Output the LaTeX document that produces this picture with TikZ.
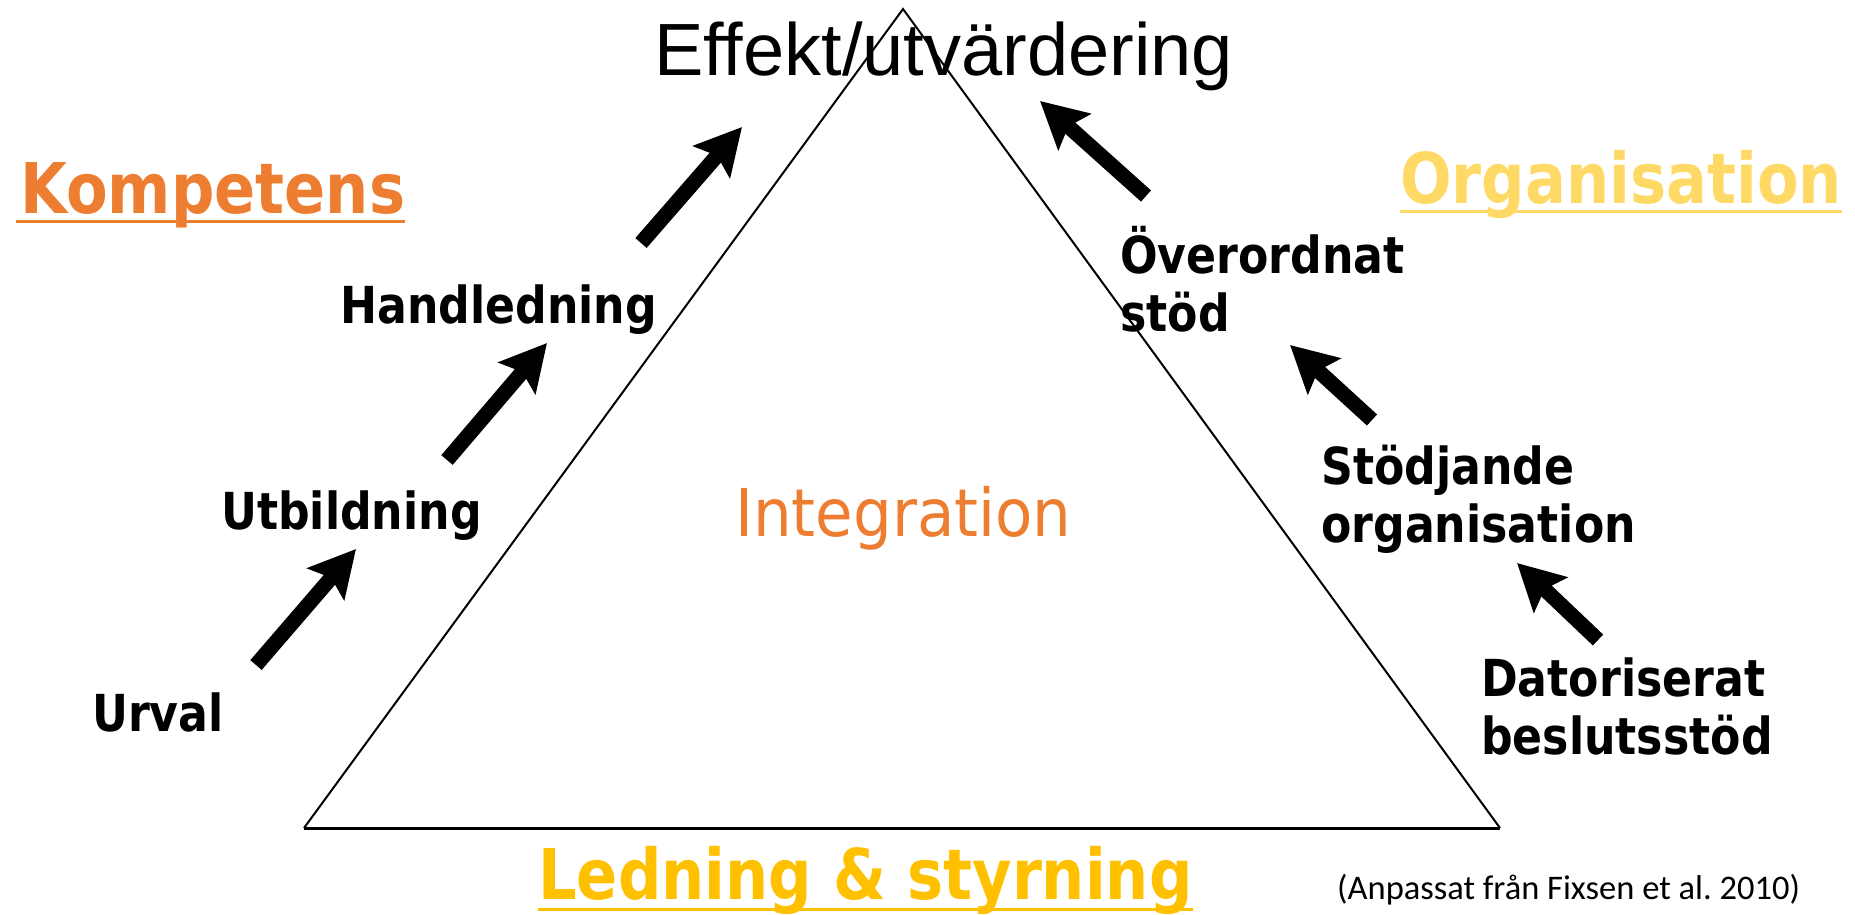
\documentclass[tikz,border=0pt]{standalone}
\usepackage{fontspec}
\usetikzlibrary{arrows.meta}
\setmainfont{Liberation Sans}
\newfontfamily\tahfont[FakeStretch=0.867]{DejaVu Sans}
\newfontfamily\tahregfont[FakeStretch=0.925]{DejaVu Sans}
\newfontfamily\calfont{Carlito}
\definecolor{korange}{HTML}{ED7D31}
\definecolor{orggold}{HTML}{FFD966}
\definecolor{ledgold}{HTML}{FFC000}
\begin{document}
\begin{tikzpicture}[x=1pt,y=-1pt,
  lab/.style={anchor=base west,inner sep=0pt,align=left,font=\tahfont\bfseries\fontsize{51}{58}\selectfont},
  corner/.style={anchor=base west,inner sep=0pt,font=\tahfont\bfseries\fontsize{70}{80}\selectfont},
  uline/.style={line width=3pt},
  bigarrow/.style={line width=15pt,-{Stealth[length=46pt,width=48pt,inset=8pt]}},
  tri/.style={line width=2pt,line join=miter}]
\useasboundingbox (0,0) rectangle (1855,914);
% triangle
\coordinate (apex) at (903,9);
\coordinate (bl) at (304,828);
\coordinate (br) at (1500,828);
\draw[tri] (bl) -- (apex) -- (br);
\draw[line width=3pt] (bl) -- (br);
% title
\node[anchor=base west,inner sep=0pt,font=\fontsize{74}{80}\selectfont] (title) at (654,75) {Effekt/utvärdering};
% corner headings
\node[corner,text=korange] (komp) at (20,213) {Kompetens};
\draw[uline,korange] ([xshift=-4pt,yshift=-8pt]komp.base west) -- ([yshift=-8pt]komp.base east);
\node[corner,text=orggold] (org) at (1400,203) {Organisation};
\draw[uline,orggold] ([yshift=-8pt]org.base west) -- ([yshift=-8pt]org.base east);
\node[corner,text=ledgold] (led) at (538,899) {Ledning \& styrning};
\draw[uline,ledgold] ([yshift=-10pt]led.base west) -- ([yshift=-10pt]led.base east);
% center
\node[anchor=base west,inner sep=0pt,text=korange,font=\tahregfont\fontsize{66}{70}\selectfont] (integ) at (735,536) {Integration};
% footnote
\node[anchor=base west,inner sep=0pt,font=\calfont\fontsize{34.5}{40}\selectfont] (src) at (1337,899) {(Anpassat från Fixsen et al.\ 2010)};
% left labels
\node[lab] (urval) at (92,731) {Urval};
\node[lab] (utb) at (221,529) {Utbildning};
\node[lab] (handl) at (340,323) {Handledning};
% right labels (base = last line)
\node[lab] (over) at (1120,331) {Överordnat\\stöd};
\node[lab] (stodj) at (1321,542) {Stödjande\\organisation};
\node[lab] (dator) at (1481,754) {Datoriserat\\beslutsstöd};
% arrows
\coordinate (a1s) at (256,665); \coordinate (a1e) at (356,549);
\coordinate (a2s) at (447,460); \coordinate (a2e) at (547,343);
\coordinate (a3s) at (641,243); \coordinate (a3e) at (742,127);
\coordinate (a4s) at (1146,196); \coordinate (a4e) at (1040,101);
\coordinate (a5s) at (1372,420); \coordinate (a5e) at (1290,345);
\coordinate (a6s) at (1598,640); \coordinate (a6e) at (1517,563);
\foreach \i in {1,...,6} {\draw[bigarrow] (a\i s) -- (a\i e);}
\end{tikzpicture}
\end{document}
